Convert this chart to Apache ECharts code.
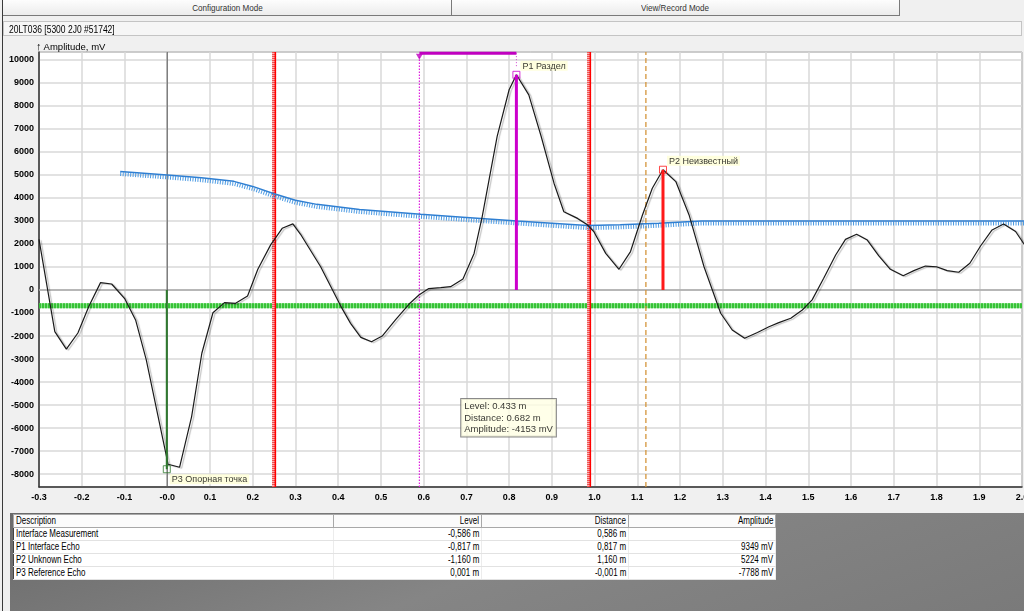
<!DOCTYPE html>
<html>
<head>
<meta charset="utf-8">
<script src="https://cdn.jsdelivr.net/npm/echarts@6/dist/echarts.min.js"></script>
<style>
  body { margin: 0; width: 1024px; height: 611px; overflow: hidden; background: #f0f0f0; position: relative; font-family: "Liberation Sans", Arial, sans-serif; }
  #chart { position: absolute; left: 0; top: 0; width: 1024px; height: 513px; }
  .frame { position: absolute; left: 2px; top: 0; width: 1px; height: 611px; background: #3a3a3a; }
  .tabs { position: absolute; left: 3px; top: 0; width: 897px; height: 15px; background: linear-gradient(#fdfdfd, #ececec); border-bottom: 1px solid #7a7a7a; }
  .tab { position: absolute; top: 0; height: 15px; line-height: 15px; text-align: center; font-size: 9.5px; color: #333; border-right: 1px solid #7a7a7a; }
  .tab span { display: inline-block; transform: scaleX(0.85); }
  .title { position: absolute; left: 3px; top: 21px; width: 1019px; height: 15px; line-height: 15px; background: #f6f6f6; border: 1px solid #c4c4c4; font-size: 10px; padding-left: 5px; box-sizing: border-box; color: #000; }
  .title span { display: inline-block; transform: scaleX(0.85); transform-origin: left; }
  .yname { position: absolute; left: 36px; top: 40px; font-size: 9.5px; color: #000; }
  .yname b { font-size: 11px; }
  .panel { position: absolute; left: 10px; top: 513px; width: 1014px; height: 98px; background: linear-gradient(160deg, #6a6a6a, #858585 50%, #7a7a7a); }
  table { position: absolute; left: 3px; top: 1px; width: 763px; table-layout: fixed; border-collapse: collapse; background: #fff; border: 1px solid #444; font-size: 10px; color: #000; }
  td, th { height: 12px; padding: 0 2px; line-height: 12px; white-space: nowrap; overflow: hidden; font-weight: normal; }
  th { border: 1px solid #a8a8a8; background: #fbfbfb; text-align: right; }
  th:first-child, td:first-child { text-align: left; }
  td { text-align: right; border-bottom: 1px solid #e2e2e2; border-right: 1px solid #ececec; }
  td span, th span { display: inline-block; transform: scaleX(0.8); transform-origin: right; }
  td:first-child span, th:first-child span { transform-origin: left; }
</style>
</head>
<body>
<div id="chart"></div>
<div class="frame"></div>
<div class="tabs">
  <div class="tab" style="left:0;width:448px"><span>Configuration Mode</span></div>
  <div class="tab" style="left:449px;width:447px"><span>View/Record Mode</span></div>
</div>
<div class="title"><span>20LT036 [5300 2J0 #51742]</span></div>
<div class="yname"><b>&#8593;</b> Amplitude, mV</div>
<div class="panel"><table id="tbl"></table></div>

<script>
// axis ranges
const distMin = -0.3
const distMax = 2.0
const ampMin = -8560
const ampMax = 10340

// echo curve (distance m, amplitude mV)
const signalDist = [-0.3, -0.263, -0.236, -0.209, -0.183, -0.156, -0.13, -0.099, -0.074, -0.049, -0.023, 0.002, 0.029, 0.057, 0.081, 0.107, 0.134, 0.16, 0.188, 0.212, 0.242, 0.269, 0.294, 0.312, 0.359, 0.406, 0.429, 0.453, 0.478, 0.503, 0.534, 0.566, 0.589, 0.612, 0.64, 0.663, 0.692, 0.718, 0.737, 0.753, 0.772, 0.8, 0.817, 0.846, 0.875, 0.905, 0.928, 0.96, 0.983, 0.998, 1.026, 1.057, 1.084, 1.112, 1.135, 1.16, 1.19, 1.221, 1.256, 1.295, 1.322, 1.351, 1.381, 1.408, 1.431, 1.459, 1.486, 1.509, 1.536, 1.564, 1.587, 1.613, 1.638, 1.665, 1.692, 1.722, 1.747, 1.774, 1.8, 1.825, 1.852, 1.878, 1.903, 1.93, 1.957, 1.985, 2.006]
const signalAmp = [2200, -1810, -2570, -1870, -700, 320, 260, -390, -1300, -3040, -5350, -7570, -7700, -5510, -2750, -990, -550, -580, -260, 900, 1960, 2680, 2870, 2420, 1010, -700, -1450, -2060, -2250, -2000, -1300, -610, -220, 60, 100, 145, 480, 1590, 3190, 4780, 6670, 8700, 9349, 8480, 6670, 4640, 3400, 3110, 2830, 2540, 1590, 900, 1670, 3260, 4420, 5224, 4710, 3260, 1010, -1010, -1740, -2100, -1850, -1600, -1420, -1230, -870, -430, 510, 1520, 2200, 2420, 2170, 1480, 900, 620, 840, 1040, 1010, 840, 770, 1160, 1910, 2610, 2870, 2540, 1960]

// threshold curve
const atcDist = [-0.11, 0.0, 0.08, 0.156, 0.2, 0.25, 0.3, 0.35, 0.45, 0.593, 0.7, 0.819, 0.9, 0.983, 1.06, 1.15, 1.25, 2.006]
const atcAmp = [5150, 5000, 4880, 4720, 4500, 4180, 3900, 3720, 3500, 3290, 3150, 3000, 2900, 2800, 2830, 2900, 3000, 3000]

const gateDist = [0.25, 0.987]
const blankingDist = 1.12
const interfaceDist = 0.59
const interfaceThreshold = -690

const peakNames = ['P1 Раздел', 'P2 Неизвестный', 'P3 Опорная точка']
const peakDist = [0.817, 1.16, -0.001]
const peakAmp = [9349, 5224, -7788]
const peakColors = ['#cc00cc', '#ff1a1a', '#2f7a2f']

const cursorDist = 0.682
const cursorAmp = -4153
const cursorLevel = 0.433

const tableHead = ['Description', 'Level', 'Distance', 'Amplitude']
const tableDesc = ['Interface Measurement', 'P1 Interface Echo', 'P2 Unknown Echo', 'P3 Reference Echo']
const tableLevel = ['-0,586 m', '-0,817 m', '-1,160 m', '0,001 m']
const tableDistance = ['0,586 m', '0,817 m', '1,160 m', '-0,001 m']
const tableAmplitude = ['', '9349 mV', '5224 mV', '-7788 mV']

// table
const colW = [320, 148, 147, 147]
const cell = (tag, t) => `<${tag}><span>${t}</span></${tag}>`
let html = '<colgroup>' + colW.map(w => `<col style="width:${w}px">`).join('') + '</colgroup>'
html += '<tr>' + tableHead.map(h => cell('th', h)).join('') + '</tr>'
tableDesc.forEach((d, i) => {
  html += '<tr>' + [d, tableLevel[i], tableDistance[i], tableAmplitude[i]].map(t => cell('td', t)).join('') + '</tr>'
})
document.getElementById('tbl').innerHTML = html

const zip = (a, b) => a.map((v, i) => [v, b[i]])

const vline = (x, lineStyle, z) => ({
  type: 'line', data: [[x, ampMin], [x, ampMax]], symbol: 'none', silent: true, lineStyle, z
})
const hline = (y, lineStyle, z) => ({
  type: 'line', data: [[distMin, y], [distMax, y]], symbol: 'none', silent: true, lineStyle, z
})

const series = []

// zero lines
series.push(hline(0, { color: '#a8a8a8', width: 1.5 }, 1))
series.push(vline(0, { color: '#555', width: 1 }, 1))

// green threshold band
series.push(hline(interfaceThreshold, { color: '#86e086', width: 5 }, 2))
series.push(hline(interfaceThreshold, { color: '#36c236', width: 5, type: [2, 1] }, 2))

// gates
gateDist.forEach(g => {
  series.push(vline(g, { color: '#f9b4b4', width: 4 }, 2))
  series.push(vline(g, { color: '#f05050', width: 4, type: [1, 1] }, 2))
  series.push(vline(g + 0.003, { color: '#ff0000', width: 1.5 }, 2))
})

// blanking
series.push(vline(blankingDist, { color: '#d4943a', width: 1.3, type: [5, 3] }, 2))

// interface dotted line
series.push({
  type: 'line', data: [[interfaceDist, ampMin], [interfaceDist, 10130]], symbol: 'none', silent: true,
  lineStyle: { color: '#dd22dd', width: 1.2, type: [1.5, 1.5] }, z: 2
})

// threshold curve with hatch
series.push({
  type: 'line', yAxisIndex: 1, data: zip(atcDist, atcAmp), symbol: 'none', silent: true,
  lineStyle: { color: '#4d9be3', width: 4, type: [1, 1.5] }, z: 3
})
series.push({
  type: 'line', data: zip(atcDist, atcAmp), symbol: 'none', silent: true,
  lineStyle: { color: '#2f7fd2', width: 1.5 }, z: 3
})

// echo curve
series.push({
  type: 'line', data: zip(signalDist, signalAmp), symbol: 'none', silent: true,
  lineStyle: { color: '#1a1a1a', width: 1.2, shadowColor: 'rgba(0,0,0,0.25)', shadowBlur: 1, shadowOffsetX: 2, shadowOffsetY: 1 },
  z: 4
})

// peak stems, markers, labels
peakNames.forEach((name, i) => {
  series.push({
    type: 'line', data: [[peakDist[i], 0], [peakDist[i], peakAmp[i]]], symbol: 'none', silent: true,
    lineStyle: { color: peakColors[i], width: i === 2 ? 2 : 3 }, z: 5
  })
  series.push({
    type: 'scatter', data: [{ value: [peakDist[i], peakAmp[i]], name }], symbol: 'rect', symbolSize: 7,
    itemStyle: { color: 'rgba(0,0,0,0)', borderColor: peakColors[i], borderWidth: 1 },
    label: {
      show: true, formatter: '{b}', position: i === 2 ? [7, 9] : [8, -10],
      fontSize: 9, color: '#000', backgroundColor: '#ffffd6', padding: [1, 2, 0, 2],
      fontFamily: 'Liberation Sans'
    },
    z: 6, silent: true
  })
})

// interface bracket
series.push({
  type: 'line', data: [[interfaceDist, 10290], [peakDist[0], 10290]], symbol: 'none', silent: true, clip: false,
  lineStyle: { color: '#c000c0', width: 3 }, z: 6
})
series.push({
  type: 'line', data: [[peakDist[0], 10290], [peakDist[0], 9700]], symbol: 'none', silent: true,
  lineStyle: { color: '#d040d0', width: 1, type: [1, 2] }, z: 6
})
series.push({
  type: 'scatter', data: [[interfaceDist, 10130]], symbol: 'triangle', symbolRotate: 180, symbolSize: [7, 6],
  itemStyle: { color: '#c000c0' }, silent: true, z: 6
})

// cursor readout
series.push({
  type: 'scatter', data: [[cursorDist, cursorAmp]], symbolSize: 1, itemStyle: { color: 'rgba(0,0,0,0)' },
  label: {
    show: true, position: [3, 14],
    formatter: [`Level: ${cursorLevel} m`, `Distance: ${cursorDist} m`, `Amplitude: ${cursorAmp} mV`].join('\n'),
    fontSize: 9.5, lineHeight: 11.5, color: '#000', backgroundColor: '#ffffe4',
    borderColor: '#6d6d6d', borderWidth: 1, padding: [2, 3, 1, 3], align: 'left',
    fontFamily: 'Liberation Sans'
  },
  silent: true, z: 7
})

const chart = echarts.init(document.getElementById('chart'))
chart.setOption({
  animation: false,
  backgroundColor: 'transparent',
  grid: {
    left: 39, right: 2, top: 52, bottom: 26, containLabel: false, outerBoundsMode: 'none',
    show: true, backgroundColor: '#fff', borderColor: '#555', borderWidth: 1
  },
  xAxis: {
    type: 'value', min: distMin, max: distMax, interval: 0.1,
    axisLine: { show: true, onZero: false, lineStyle: { color: '#333', width: 1.5 } },
    axisTick: { show: false },
    axisLabel: {
      fontSize: 9, fontWeight: 'bold', color: '#000', margin: 6, fontFamily: 'Liberation Sans',
      formatter: v => Math.abs(v) < 1e-9 ? '-0.0' : v.toFixed(1)
    },
    splitLine: { show: true, lineStyle: { color: '#d8d8d8', width: 1.5 } }
  },
  yAxis: [
    {
      type: 'value', min: ampMin, max: ampMax, splitNumber: 19,
      axisLine: { show: true, onZero: false, lineStyle: { color: '#333', width: 1.5 } },
      axisTick: { show: false },
      axisLabel: {
        fontSize: 9, fontWeight: 'bold', color: '#000', margin: 5, showMinLabel: false, showMaxLabel: false,
        fontFamily: 'Liberation Sans', formatter: v => String(Math.round(v))
      },
      splitLine: { show: true, lineStyle: { color: '#d8d8d8', width: 1.5 } }
    },
    { type: 'value', show: false, min: ampMin + 110, max: ampMax + 110 }
  ],
  series
})
</script>
</body>
</html>
